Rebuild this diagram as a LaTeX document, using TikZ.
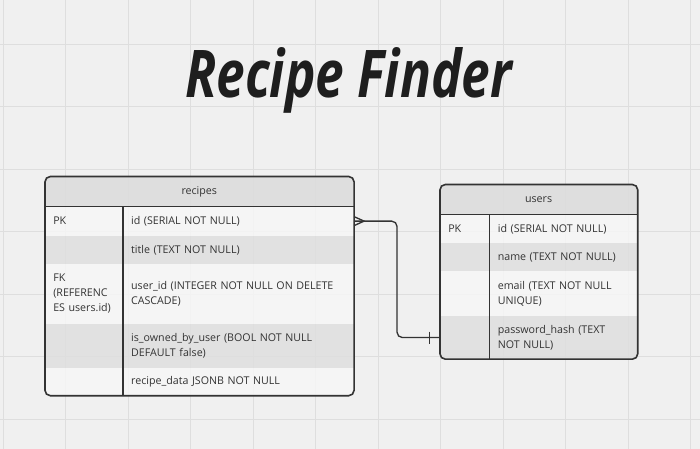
\documentclass[tikz,border=0pt]{standalone}
\usepackage{fontspec}
\setmainfont{Open Sans}
\newfontfamily\titlefont{Open Sans}
\usepackage{graphicx}
\usetikzlibrary{positioning, calc, backgrounds}
\definecolor{canvas}{HTML}{F0F0F0}
\definecolor{gridln}{HTML}{DEDEDE}
\definecolor{hdrfill}{HTML}{DCDCDC}
\definecolor{rowlt}{HTML}{F7F7F7}
\definecolor{rowdk}{HTML}{DEDEDE}
\definecolor{ink}{HTML}{333333}
\definecolor{titleink}{HTML}{1E1E1E}
\newcommand{\tblfont}{\fontsize{8}{11.25}\selectfont}
\tikzset{
    tblhead/.style={rectangle, anchor=north west, inner sep=0pt,
                    minimum height=22pt, font=\tblfont, text=ink},
    keycell/.style={rectangle, inner xsep=6pt, inner ysep=0pt, align=left,
                    font=\tblfont, text=ink},
    rkey/.style={keycell, text width=46pt},
    rval/.style={keycell, text width=161pt},
    ukey/.style={keycell, text width=24.75pt},
    uval/.style={keycell, text width=98.75pt},
    tblframe/.style={draw=ink, line width=1.2pt, rounded corners=4pt},
    divider/.style={draw=ink, line width=1.1pt},
    relation/.style={draw=ink, line width=1pt, rounded corners=4pt},
    crowfoot/.style={draw=ink, line width=1pt},
    gridline/.style={draw=gridln, line width=0.9pt},
    titletext/.style={anchor=base, inner sep=0pt, text=titleink,
                      font=\titlefont\bfseries\itshape},
}

\begin{document}
\begin{tikzpicture}[x=0.75pt, y=-0.75pt]
    \useasboundingbox (0,0) rectangle (700,449);
    % canvas and grid
    \begin{scope}[on background layer]
        \fill[canvas] (0,0) rectangle (700,449);
        \foreach \k in {0,...,11} \draw[gridline] (3.3+62.5*\k,0) -- (3.3+62.5*\k,449);
        \foreach \k in {0,...,6} \draw[gridline] (0,44.3+62.5*\k) -- (700,44.3+62.5*\k);
    \end{scope}

    \node[titletext] (title) at (348.5,98) {\resizebox{245pt}{37.5pt}{Recipe Finder}};

    % recipes table
    \node[tblhead, minimum width=231pt] (rhead) at (45,176.5) {recipes};
    \node[rkey, below=0pt of rhead.south west, anchor=north west, minimum height=21.75pt] (rk1) {PK};
    \node[rval, right=0pt of rk1.north east, anchor=north west, minimum height=21.75pt] (rv1) {id (SERIAL NOT NULL)};
    \node[rkey, below=0pt of rk1.south west, anchor=north west, minimum height=20.8pt] (rk2) {};
    \node[rval, right=0pt of rk2.north east, anchor=north west, minimum height=20.8pt] (rv2) {title (TEXT NOT NULL)};
    \node[rkey, below=0pt of rk2.south west, anchor=north west, minimum height=44.25pt] (rk3)
        {FK\\(REFERENC\\ES users.id)};
    \node[rval, right=0pt of rk3.north east, anchor=north west, minimum height=44.25pt] (rv3)
        {user\_id (INTEGER NOT NULL ON DELETE\\CASCADE)};
    \node[rkey, below=0pt of rk3.south west, anchor=north west, minimum height=33pt] (rk4) {};
    \node[rval, right=0pt of rk4.north east, anchor=north west, minimum height=33pt] (rv4)
        {is\_owned\_by\_user (BOOL NOT NULL\\DEFAULT false)};
    \node[rkey, below=0pt of rk4.south west, anchor=north west, minimum height=20.2pt] (rk5) {};
    \node[rval, right=0pt of rk5.north east, anchor=north west, minimum height=20.2pt] (rv5)
        {recipe\_data JSONB NOT NULL};

    % users table
    \node[tblhead, minimum width=147.5pt] (uhead) at (440,184.5) {users};
    \node[ukey, below=0pt of uhead.south west, anchor=north west, minimum height=21.3pt] (uk1) {PK};
    \node[uval, right=0pt of uk1.north east, anchor=north west, minimum height=21.3pt] (uv1) {id (SERIAL NOT NULL)};
    \node[ukey, below=0pt of uk1.south west, anchor=north west, minimum height=20.7pt] (uk2) {};
    \node[uval, right=0pt of uk2.north east, anchor=north west, minimum height=20.7pt] (uv2) {name (TEXT NOT NULL)};
    \node[ukey, below=0pt of uk2.south west, anchor=north west, minimum height=33pt] (uk3) {};
    \node[uval, right=0pt of uk3.north east, anchor=north west, minimum height=33pt] (uv3)
        {email (TEXT NOT NULL\\UNIQUE)};
    \node[ukey, below=0pt of uk3.south west, anchor=north west, minimum height=32pt] (uk4) {};
    \node[uval, right=0pt of uk4.north east, anchor=north west, minimum height=32pt] (uv4)
        {password\_hash (TEXT\\NOT NULL)};

    % row fills, clipped to the rounded frames
    \begin{scope}[on background layer]
        \begin{scope}
            \clip[rounded corners=4pt] (rhead.north west) rectangle (rv5.south east);
            \fill[hdrfill, fill opacity=0.85] (rhead.north west) rectangle (rhead.south east);
            \foreach \n/\c in {1/rowlt, 2/rowdk, 3/rowlt, 4/rowdk, 5/rowlt}
                \fill[\c, fill opacity=0.8] (rk\n.north west) rectangle (rv\n.south east);
        \end{scope}
        \begin{scope}
            \clip[rounded corners=4pt] (uhead.north west) rectangle (uv4.south east);
            \fill[hdrfill, fill opacity=0.85] (uhead.north west) rectangle (uhead.south east);
            \foreach \n/\c in {1/rowlt, 2/rowdk, 3/rowlt, 4/rowdk}
                \fill[\c, fill opacity=0.8] (uk\n.north west) rectangle (uv\n.south east);
        \end{scope}
    \end{scope}

    % frames and dividers
    \draw[tblframe] (rhead.north west) rectangle (rv5.south east);
    \draw[divider] (rhead.south west) -- (rhead.south east);
    \draw[divider] (rk1.north east) -- (rk5.south east);
    \draw[tblframe] (uhead.north west) rectangle (uv4.south east);
    \draw[divider] (uhead.south west) -- (uhead.south east);
    \draw[divider] (uk1.north east) -- (uk4.south east);

    % relation: many recipes to one user
    \draw[relation] (rv1.east) -| ($(rv1.east)!0.5!(uk4.west)$) |- (uk4.west);
    \draw[crowfoot] ($(rv1.east)+(0,-4.5)$) -- ($(rv1.east)+(10,0)$) -- ($(rv1.east)+(0,4.5)$);
    \draw[crowfoot] ($(uk4.west)+(-10.7,-6)$) -- ($(uk4.west)+(-10.7,6)$);
\end{tikzpicture}
\end{document}
